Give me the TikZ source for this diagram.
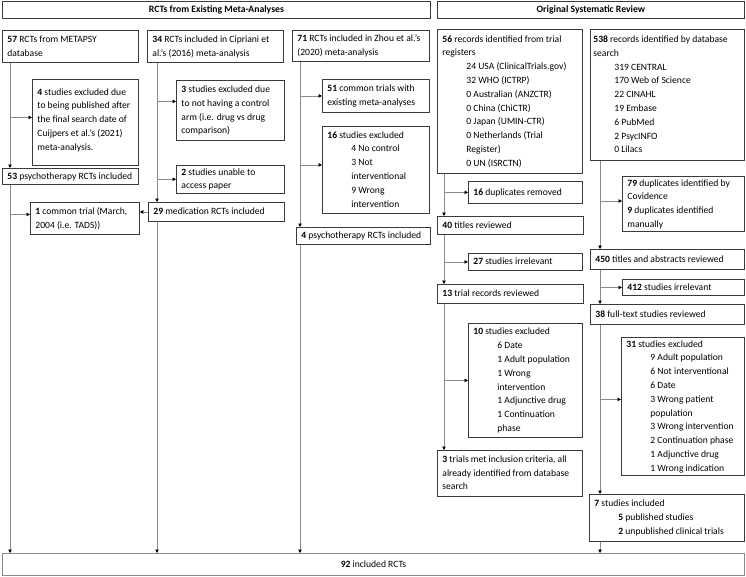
\documentclass[tikz,border=0pt]{standalone}
\usepackage{fontspec}
\setmainfont{Carlito}
\usetikzlibrary{arrows.meta,calc}
\definecolor{bordercol}{HTML}{3A3A3A}
\definecolor{linecol}{HTML}{8A8A8A}
\newcommand\ind{\hspace*{24pt}}
\newcommand\indE{\hspace*{19pt}}
\newcommand\bx[5]{%
  \pgfmathsetmacro\tw{#3-10}%
  \node[box, minimum width=#3pt, minimum height=#4pt, anchor=north west] (#1) at (#2)
    {\makebox[\tw pt][l]{\begin{tabular}{@{}l@{}}#5\end{tabular}}};}
\begin{document}
\begin{tikzpicture}[x=1pt,y=-1pt,
  box/.style={draw=bordercol, line width=0.8pt, fill=white, inner xsep=5pt, inner ysep=0pt,
    font=\fontsize{9.6}{13.8}\selectfont},
  hdr/.style={draw=bordercol, line width=0.8pt, inner sep=0pt, font=\fontsize{9.7}{11}\selectfont\bfseries, anchor=north west},
  conn/.style={draw=linecol, line width=0.7pt},
  arr/.style={conn, -{Triangle[length=3.5pt,width=3.5pt,color=black]}}]
\useasboundingbox (0,0) rectangle (746,576);
% headers
\node[hdr, minimum width=428pt, minimum height=17pt] (hl) at (2,1) {RCTs from Existing Meta-Analyses};
\node[hdr, minimum width=307pt, minimum height=17pt] (hr) at (437,1) {Original Systematic Review};
% column A
\bx{a1}{2,30}{136}{32}{\textbf{57} RCTs from METAPSY\\database}
\bx{a2}{32,79}{106}{86}{\textbf{4} studies excluded due\\to being published after\\the final search date of\\Cuijpers et al.'s (2021)\\meta-analysis.\\[5pt]}
\bx{a3}{2,168}{136}{16}{\textbf{53} psychotherapy RCTs included}
\bx{a4}{30,202}{109}{32}{\textbf{1} common trial (March,\\2004 (i.e. TADS))}
% column B
\bx{b1}{147,30}{136}{32}{\textbf{34} RCTs included in Cipriani et\\al.'s (2016) meta-analysis}
\bx{b2}{176,80}{108}{60}{\textbf{3} studies excluded due\\to not having a control\\arm (i.e. drug vs drug\\comparison)}
\bx{b3}{176,165}{108}{21}{\textbf{2} studies unable to\\access paper}
\bx{b4}{148,202}{136}{19}{\textbf{29} medication RCTs included}
% column C
\bx{c1}{292,30}{137}{31}{\textbf{71} RCTs included in Zhou et al.'s\\(2020) meta-analysis}
\bx{c2}{322,79}{107}{33}{\textbf{51} common trials with\\existing meta-analyses}
\bx{c3}{322,126}{107}{87}{\textbf{16} studies excluded\\\ind 4 No control\\\ind 3 Not\\\ind interventional\\\ind 9 Wrong\\\ind intervention}
\bx{c4}{296,227}{134}{17}{\textbf{4} psychotherapy RCTs included}
% column D
\bx{d1}{437,29}{145}{144}{\textbf{56} records identified from trial\\registers\\\ind 24 USA (ClinicalTrials.gov)\\\ind 32 WHO (ICTRP)\\\ind 0 Australian (ANZCTR)\\\ind 0 China (ChiCTR)\\\ind 0 Japan (UMIN-CTR)\\\ind 0 Netherlands (Trial\\\ind Register)\\\ind 0 UN (ISRCTN)}
\bx{d2}{468,181}{114}{22}{\textbf{16} duplicates removed}
\bx{d3}{437,216}{146}{18}{\textbf{40} titles reviewed}
\bx{d4}{468,253}{114}{17}{\textbf{27} studies irrelevant}
\bx{d5}{437,284}{146}{19}{\textbf{13} trial records reviewed}
\bx{d6}{468,323}{114}{114}{\textbf{10} studies excluded\\\ind 6 Date\\\ind 1 Adult population\\\ind 1 Wrong\\\ind intervention\\\ind 1 Adjunctive drug\\\ind 1 Continuation\\\ind phase}
\bx{d7}{437,450}{145}{46}{\textbf{3} trials met inclusion criteria, all\\already identified from database\\search}
% column E
\bx{e1}{590,29}{154}{131}{\hspace*{-2pt}\textbf{538} records identified by database\\\hspace*{-2pt}search\\\indE 319 CENTRAL\\\indE 170 Web of Science\\\indE 22 CINAHL\\\indE 19 Embase\\\indE 6 PubMed\\\indE 2 PsycINFO\\\indE 0 Lilacs}
\bx{e2}{622,176}{122}{51}{\textbf{79} duplicates identified by\\Covidence\\\textbf{9} duplicates identified\\manually}
\bx{e3}{590,249}{154}{20}{\textbf{450} titles and abstracts reviewed}
\bx{e4}{622,279}{122}{16}{\textbf{412} studies irrelevant}
\bx{e5}{590,304}{154}{20}{\textbf{38} full-text studies reviewed}
\bx{e6}{621,337}{123}{138}{\textbf{31} studies excluded\\\ind 9 Adult population\\\ind 6 Not interventional\\\ind 6 Date\\\ind 3 Wrong patient\\\ind population\\\ind 3 Wrong intervention\\\ind 2 Continuation phase\\\ind 1 Adjunctive drug\\\ind 1 Wrong indication}
\bx{e7}{589,494}{155}{47}{\textbf{7} studies included\\\ind\textbf{5} published studies\\\ind\textbf{2} unpublished clinical trials}
% final
\node[box, minimum width=742pt, minimum height=22pt, anchor=north west, line width=1pt, draw=linecol] (f) at (2,553) {\textbf{92} included RCTs};
% trunk coordinates
\coordinate (tA) at ([xshift=8pt]a1.south west);
\coordinate (tB) at ([xshift=10pt]b1.south west);
\coordinate (tC) at ([xshift=8pt]c1.south west);
\coordinate (tD) at ([xshift=7pt]d1.south west);
\coordinate (tE) at ([xshift=10pt]e1.south west);
\coordinate (a2in) at ([yshift=5pt]a2.west);
\coordinate (a4in) at ([yshift=4pt]a4.west);
\coordinate (b2in) at ([yshift=9pt]b2.west);
\coordinate (c3in) at ([yshift=5pt]c3.west);
\coordinate (e2in) at ([yshift=3pt]e2.west);
\coordinate (e6in) at ([yshift=7pt]e6.west);
% column A connectors
\draw[arr] (tA) -- (tA |- a3.north);
\draw[arr] (tA |- a2in) -- (a2in);
\draw[arr] (tA |- a3.south) -- (tA |- f.north);
\draw[arr] (tA |- a4in) -- (a4in);
% column B
\draw[arr] (tB) -- (tB |- b4.north);
\draw[arr] (tB |- b2in) -- (b2in);
\draw[arr] (tB |- b3.west) -- (b3.west);
\draw[arr] (b4.west) -- (b4.west -| a4.east);
\draw[arr] (tB |- b4.south) -- (tB |- f.north);
% column C
\draw[arr] (tC) -- (tC |- c4.north);
\draw[arr] (tC |- c2.west) -- (c2.west);
\draw[arr] (tC |- c3in) -- (c3in);
\draw[arr] (tC |- c4.south) -- (tC |- f.north);
% column D
\draw[arr] (tD) -- (tD |- d3.north);
\draw[arr] (tD |- d2.west) -- (d2.west);
\draw[arr] (tD |- d3.south) -- (tD |- d5.north);
\draw[arr] (tD |- d4.west) -- (d4.west);
\draw[arr] (tD |- d5.south) -- (tD |- d7.north);
\draw[arr] (tD |- d6.west) -- (d6.west);
% column E
\draw[arr] (tE) -- (tE |- e3.north);
\draw[arr] (tE |- e2in) -- (e2in);
\draw[arr] (tE |- e3.south) -- (tE |- e5.north);
\draw[arr] (tE |- e4.west) -- (e4.west);
\draw[arr] (tE |- e5.south) -- (tE |- e7.north);
\draw[arr] (tE |- e6in) -- (e6in);
\draw[arr] (tE |- e7.south) -- (tE |- f.north);
\end{tikzpicture}
\end{document}
